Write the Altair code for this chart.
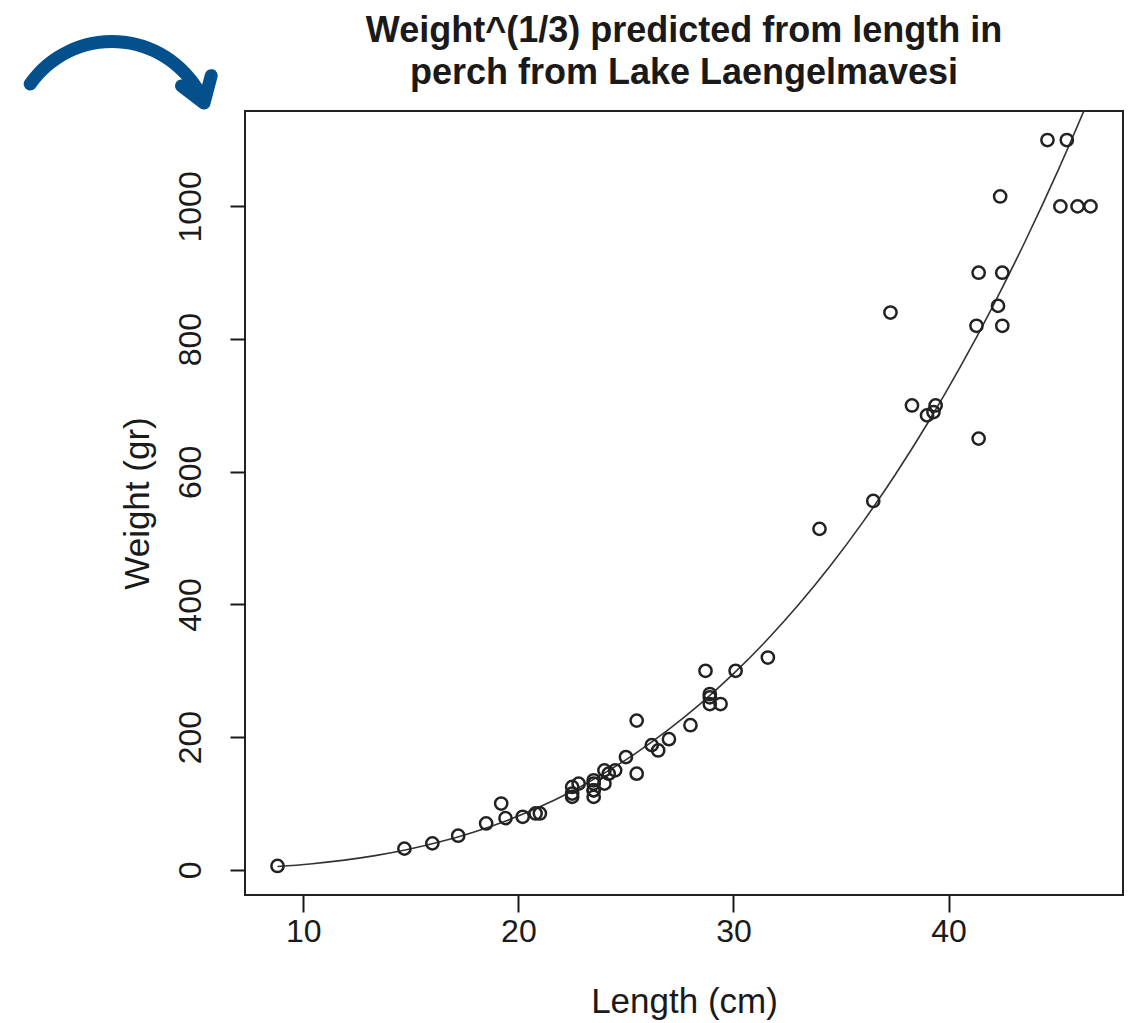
import altair as alt
import pandas as pd

# Perch from Lake Laengelmavesi: total length (cm) and weight (g)
length_cm = [8.8, 14.7, 16.0, 17.2, 18.5, 19.2, 19.4, 20.2, 20.8, 21.0,
             22.5, 22.5, 22.5, 22.8, 23.5, 23.5, 23.5, 23.5, 23.5, 24.0,
             24.0, 24.2, 24.5, 25.0, 25.5, 25.5, 26.2, 26.5, 27.0, 28.0,
             28.7, 28.9, 28.9, 28.9, 29.4, 30.1, 31.6, 34.0, 36.5, 37.3,
             39.0, 38.3, 39.4, 39.3, 41.4, 41.4, 41.3, 42.3, 42.5, 42.4,
             42.5, 44.6, 45.2, 45.5, 46.0, 46.6]
weight_gr = [5.9, 32, 40, 51.5, 70, 100, 78, 80, 85, 85,
             110, 115, 125, 130, 120, 120, 130, 135, 110, 130,
             150, 145, 150, 170, 225, 145, 188, 180, 197, 218,
             300, 260, 265, 250, 250, 300, 320, 514, 556, 840,
             685, 700, 700, 690, 900, 650, 820, 850, 900, 1015,
             820, 1100, 1000, 1100, 1000, 1000]

x_ticks = [10, 20, 30, 40]
y_ticks = [0, 200, 400, 600, 800, 1000]
title_lines = ["Weight^(1/3) predicted from length in", "perch from Lake Laengelmavesi"]

df = pd.DataFrame({"Length": length_cm, "Weight": weight_gr})

FONT = "Liberation Sans"
INK = "#1a1a1a"
BLUE = "#03508c"

x_scale = alt.Scale(domain=[7.288, 48.112], nice=False, zero=False)
y_scale = alt.Scale(domain=[-37.86, 1143.76], nice=False, zero=False)

x_axis = alt.Axis(values=x_ticks, title="Length (cm)", grid=False, domain=False,
                  tickSize=17, tickWidth=2, tickColor=INK,
                  labelFontSize=32, labelFont=FONT, labelColor=INK, labelPadding=4,
                  titleFontSize=35, titleFont=FONT, titleFontWeight="normal", titleColor=INK,
                  titleBaseline="alphabetic", titleY=117)
y_axis = alt.Axis(values=y_ticks, format="d", title="Weight (gr)", grid=False, domain=False,
                  tickSize=15, tickWidth=2, tickColor=INK,
                  labelFontSize=32, labelFont=FONT, labelColor=INK,
                  labelAngle=270, labelAlign="center", labelBaseline="alphabetic", labelPadding=30,
                  titleFontSize=35, titleFont=FONT, titleFontWeight="normal", titleColor=INK,
                  titleAngle=270, titleAlign="center", titleBaseline="alphabetic",
                  titleX=-97, titleY=392)

base = alt.Chart(df)

points = base.mark_point(shape="circle", filled=False, size=150, strokeWidth=2.5,
                         color="#222222", opacity=1).encode(
    x=alt.X("Length:Q", scale=x_scale, axis=x_axis),
    y=alt.Y("Weight:Q", scale=y_scale, axis=y_axis),
)

curve = base.transform_calculate(
    cr="pow(datum.Weight, 1/3)"
).transform_regression(
    "Length", "cr", method="poly", order=1, extent=[8.8, 46.6]
).transform_calculate(
    pred="pow(datum.cr, 3)"
).mark_line(color="#333333", strokeWidth=1.6, clip=True, interpolate="monotone").encode(
    x=alt.X("Length:Q", scale=x_scale),
    y=alt.Y("pred:Q", scale=y_scale),
)

one = pd.DataFrame({"k": [0]})
arrow_arc = alt.Chart(one).mark_arc(color=BLUE, cornerRadius=6.5, clip=False).encode(
    x=alt.value(112 - 245), y=alt.value(141.5 - 111),
    theta=alt.value(5.26), theta2=alt.value(7.42),
    radius=alt.value(106.5), radius2=alt.value(93.5),
)
arrow_head = alt.Chart(one).mark_point(
    shape="M -0.67 -1 L 0 0 L 0.67 -1", filled=False, strokeWidth=13,
    strokeCap="round", strokeJoin="round", color=BLUE, opacity=1,
    size=2209, angle=341, clip=False,
).encode(x=alt.value(204 - 245), y=alt.value(103 - 111))

chart = alt.layer(curve, points, arrow_arc, arrow_head).properties(
    width=878, height=784,
    padding={"left": 245, "top": 111, "right": 9, "bottom": 128},
    autosize=alt.AutoSizeParams(type="none"),
    title=alt.TitleParams(text=title_lines, fontSize=36, font=FONT, fontWeight="bold",
                          color=INK, anchor="middle", frame="group", lineHeight=42,
                          offset=22, dy=79),
    background="white",
).configure_view(stroke="#222222", strokeWidth=2)

chart.save("out.html", embed_options={"renderer": "svg", "actions": False})
